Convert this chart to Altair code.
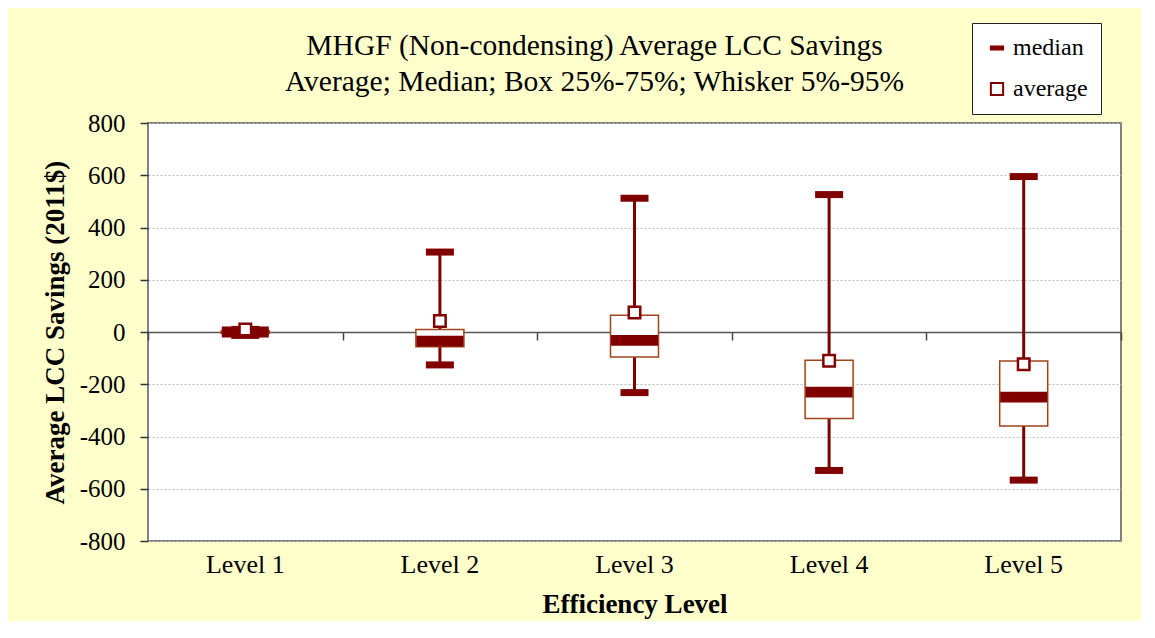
import altair as alt
import pandas as pd

levels = ["Level 1", "Level 2", "Level 3", "Level 4", "Level 5"]
p5 = [-13, -126, -232, -530, -567]
p25 = [-6, -56, -96, -331, -360]
median = [0, -35, -32, -230, -249]
p75 = [5, 10, 64, -108, -111]
p95 = [10, 306, 512, 526, 595]
mean = [10, 42, 75, -110, -123]

df = pd.DataFrame({"level": levels, "p5": p5, "p25": p25, "median": median,
                   "p75": p75, "p95": p95, "mean": mean})

DARK = "#800000"
BOXC = "#A0441A"
FONT = "Liberation Serif"

xscale = alt.Scale(type="band", paddingInner=0, paddingOuter=0)

x_main = alt.X("level:N", sort=levels, scale=xscale,
               axis=alt.Axis(title="Efficiency Level", orient="bottom", labelAngle=0,
                             ticks=False, domain=False, grid=False, labelFont=FONT,
                             labelFontSize=26, labelColor="black", labelPadding=10,
                             titleFont=FONT, titleFontSize=27, titleFontWeight="bold",
                             titlePadding=14, titleColor="black"))
x_zero = alt.X("level:N", sort=levels, scale=xscale,
               axis=alt.Axis(orient="bottom", offset=-209, labels=False, title=None,
                             ticks=True, tickBand="extent", tickSize=8, tickColor="#444",
                             tickWidth=1.5, domain=True, domainColor="#555",
                             domainWidth=1.5, grid=False))
x_none = alt.X("level:N", sort=levels, scale=xscale, axis=None)

yscale = alt.Scale(domain=[-800, 800], nice=False, zero=False)
yaxis = alt.Axis(title="Average LCC Savings (2011$)", values=list(range(-800, 801, 200)),
                 labelExpr="'' + datum.value",
                 grid=True, gridDash=[2, 2], gridColor="#BDBDBD", gridWidth=1,
                 domain=False, ticks=True, tickSize=8, tickColor="#333", tickWidth=1.5,
                 labelFont=FONT, labelFontSize=25, labelColor="black", labelPadding=15,
                 titleFont=FONT, titleFontSize=27, titleFontWeight="bold",
                 titleColor="black", titlePadding=10)

leg = alt.Legend(title=None, orient="none", legendX=824, legendY=-100,
                 fillColor="white", strokeColor="#222", padding=13,
                 labelFont=FONT, labelFontSize=24, labelColor="black", symbolSize=150,
                 rowPadding=17, labelOffset=4, cornerRadius=0, symbolStrokeWidth=2)

stat_dom = ["median", "average"]
shape_scale = alt.Scale(domain=stat_dom, range=["M-1,-0.23H1V0.23H-1Z", "square"])
fill_scale = alt.Scale(domain=stat_dom, range=[DARK, "white"])
stroke_scale = alt.Scale(domain=stat_dom, range=[DARK, DARK])

whisker = alt.Chart().mark_rule(color=DARK, strokeWidth=3).encode(
    x=x_zero,
    y=alt.Y("p5:Q", scale=yscale, axis=yaxis),
    y2="p95:Q",
)

caps = alt.Chart().transform_fold(["p5", "p95"], as_=["which", "value"]).mark_tick(
    color=DARK, thickness=7, size=28, opacity=1).encode(
    x=x_none,
    y=alt.Y("value:Q", scale=yscale, axis=yaxis),
)

box = alt.Chart().mark_bar(size=48, fill="white", stroke=BOXC, strokeWidth=1.5,
                           opacity=1).encode(
    x=x_main,
    y=alt.Y("p25:Q", scale=yscale, axis=yaxis),
    y2="p75:Q",
)

med = alt.Chart().transform_calculate(stat="'median'").mark_point(
    filled=True, opacity=1, size=2209, strokeWidth=0).encode(
    x=x_none,
    y=alt.Y("median:Q", scale=yscale, axis=yaxis),
    shape=alt.Shape("stat:N", scale=shape_scale, legend=leg),
    fill=alt.Fill("stat:N", scale=fill_scale, legend=leg),
    stroke=alt.Stroke("stat:N", scale=stroke_scale, legend=leg),
)

avg = alt.Chart().transform_calculate(stat="'average'").mark_point(
    filled=True, opacity=1, size=132, strokeWidth=2.5).encode(
    x=x_none,
    y=alt.Y("mean:Q", scale=yscale, axis=yaxis),
    shape=alt.Shape("stat:N", scale=shape_scale, legend=leg),
    fill=alt.Fill("stat:N", scale=fill_scale, legend=leg),
    stroke=alt.Stroke("stat:N", scale=stroke_scale, legend=leg),
)

chart = alt.layer(whisker, caps, box, med, avg, data=df).resolve_axis(
    x="independent"
).properties(
    width=973,
    height=418,
    title=alt.TitleParams(
        text=["MHGF (Non-condensing) Average LCC Savings",
              "Average; Median; Box 25%-75%; Whisker 5%-95%"],
        font=FONT, fontSize=29.5, fontWeight="normal", color="black",
        anchor="middle", dx=-40, offset=-75, lineHeight=36, frame="group"),
    background="#FFFFCC",
    padding={"left": 140, "top": 115, "right": 20, "bottom": 80},
    autosize=alt.AutoSizeParams(type="none"),
).configure_view(fill="white", stroke="#808080", strokeWidth=2)

chart.save("out.html", embed_options={"renderer": "svg", "actions": False})
